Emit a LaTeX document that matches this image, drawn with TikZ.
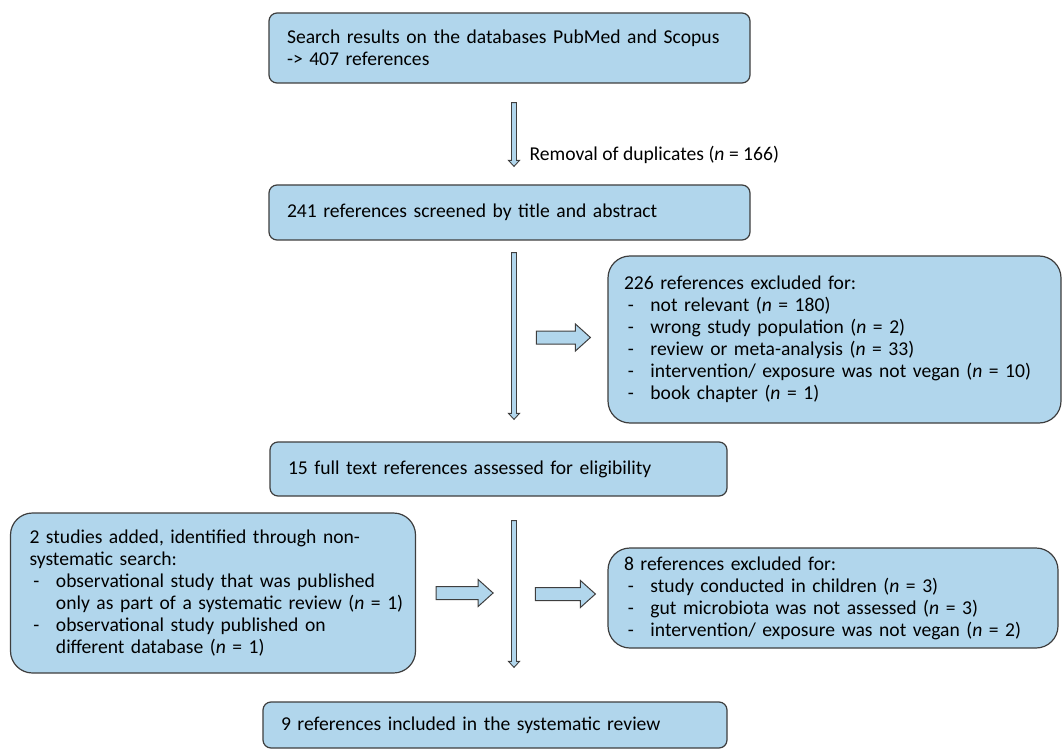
\documentclass[tikz,border=0pt]{standalone}
\usepackage{fontspec}
\setmainfont{Carlito}
\usetikzlibrary{calc}
\definecolor{boxblue}{RGB}{177,214,236}
\definecolor{boxline}{RGB}{62,62,62}
\newcommand\dashit{\makebox[1.35em][l]{\hspace{0.2em}-}}
\tikzset{
  stage/.style={draw=boxline, fill=boxblue, line width=1.2pt, rounded corners=8pt,
    align=left, inner xsep=18pt, inner ysep=0pt,
    font=\fontsize{19.6pt}{22pt}\selectfont},
  roundstage/.style={stage, rounded corners=22pt},
  downflow/.style={draw=boxline, fill=boxblue, line width=0.9pt,
    to path={let \p1=(\tikztostart), \p2=(\tikztotarget) in
      (\x1-2.5pt,\y1) -- (\x1+2.5pt,\y1) -- (\x1+2.5pt,\y2+6pt) -- (\x1+5.5pt,\y2+6pt)
      -- (\x1,\y2) -- (\x1-5.5pt,\y2+6pt) -- (\x1-2.5pt,\y2+6pt) -- cycle}},
  rightflow/.style={draw=boxline, fill=boxblue, line width=1pt,
    to path={let \p1=(\tikztostart), \p2=(\tikztotarget) in
      (\x1,\y1-6.5pt) -- (\x2-15pt,\y1-6.5pt) -- (\x2-15pt,\y1-13.5pt) -- (\x2,\y1)
      -- (\x2-15pt,\y1+13.5pt) -- (\x2-15pt,\y1+6.5pt) -- (\x1,\y1+6.5pt) -- cycle}}
}
\begin{document}
\begin{tikzpicture}[x=1pt,y=-1pt]
  \useasboundingbox (0,0) rectangle (1062,751);
  \coordinate (spine) at (514,0);
  % main column
  \node[stage, text width=445pt, minimum height=70pt] (search) at (509.5,48)
    {Search results on the databases PubMed and Scopus\\-> 407 references};
  \node[stage, text width=445pt, minimum height=55pt] (screen) at (509.5,212.5)
    {241 references screened by title and abstract};
  \node[stage, text width=421pt, minimum height=54pt] (full) at (498.5,469)
    {15 full text references assessed for eligibility};
  \node[stage, text width=428pt, minimum height=46pt] (incl) at (495,725)
    {9 references included in the systematic review};
  % side boxes
  \node[roundstage, inner xsep=16pt, text width=421pt, minimum height=167pt] (excl1) at (834.5,339.5)
    {226 references excluded for:\\
     \dashit not relevant (\textit{n} = 180)\\
     \dashit wrong study population (\textit{n} = 2)\\
     \dashit review or meta-analysis (\textit{n} = 33)\\
     \dashit intervention/ exposure was not vegan (\textit{n} = 10)\\
     \dashit book chapter (\textit{n} = 1)};
  \node[roundstage, inner xsep=19pt, text width=367pt, minimum height=160pt] (added) at (213,593)
    {2 studies added, identified through non-\\
     systematic search:\\
     \dashit observational study that was published\\
     \hspace*{1.35em}\mbox{only as part of a systematic review (\textit{n} = 1)}\\
     \dashit observational study published on\\
     \hspace*{1.35em}different database (\textit{n} = 1)};
  \node[roundstage, inner xsep=16pt, text width=418pt, minimum height=100pt] (excl2) at (833,598)
    {8 references excluded for:\\
     \dashit study conducted in children (\textit{n} = 3)\\
     \dashit gut microbiota was not assessed (\textit{n} = 3)\\
     \dashit intervention/ exposure was not vegan (\textit{n} = 2)};
  % arrows
  \draw[downflow] ($(spine |- search.south)+(0,19)$) to ($(spine |- screen.north)+(0,-18)$);
  \node[anchor=west, font=\fontsize{19.6pt}{22pt}\selectfont] (dup) at (526,155)
    {Removal of duplicates (\textit{n} = 166)};
  \draw[downflow] ($(spine |- screen.south)+(0,12)$) to ($(spine |- full.north)+(0,-22)$);
  \draw[rightflow] ($(excl1.west)+(-71,-2)$) to ($(excl1.west)+(-17,-2)$);
  \draw[downflow] ($(spine |- full.south)+(0,24)$) to ($(spine |- incl.north)+(0,-34)$);
  \draw[rightflow] ($(added.east)+(20,0)$) to ($(added.east)+(77,0)$);
  \draw[rightflow] ($(excl2.west)+(-72,-4)$) to ($(excl2.west)+(-12,-4)$);
\end{tikzpicture}
\end{document}
